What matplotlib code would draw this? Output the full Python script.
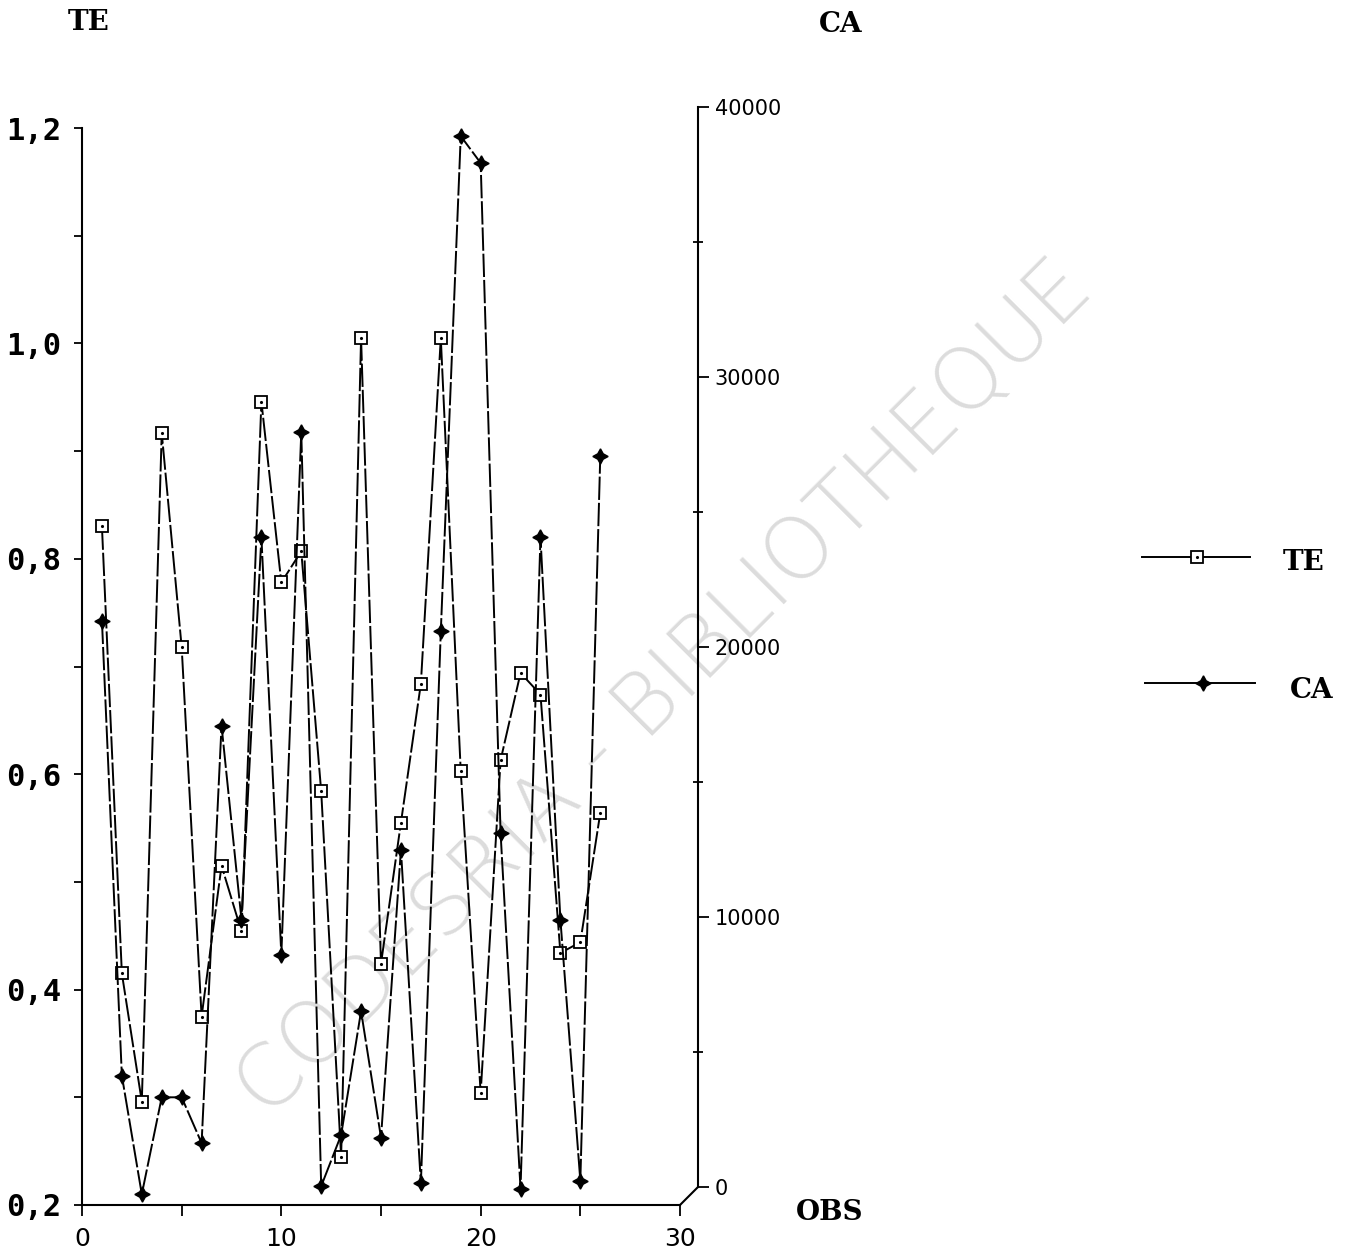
import numpy as np
import matplotlib
matplotlib.use("Agg")
import matplotlib.pyplot as plt
from matplotlib.ticker import MultipleLocator, FuncFormatter

# observations and the two series
obs = list(range(1, 27))
te = [0.83, 0.415, 0.296, 0.917, 0.718, 0.375, 0.515, 0.454, 0.946, 0.778,
      0.807, 0.584, 0.245, 1.005, 0.424, 0.555, 0.684, 1.005, 0.603, 0.304,
      0.613, 0.694, 0.674, 0.434, 0.444, 0.564]
ca = [21700, 4800, 400, 4000, 4000, 2300, 17800, 10600, 24800, 9300,
      28700, 700, 2600, 7200, 2500, 13200, 800, 21300, 39700, 38700,
      13800, 600, 24800, 10600, 900, 27800]

W, H = 1356, 1254
fig = plt.figure(figsize=(W / 100, H / 100), dpi=100)

line_style = (0, (12, 1.5))
serif_bold = dict(family="DejaVu Serif", fontweight="bold", fontsize=20)

# background layer in pixel coordinates: watermark, titles, legend
bg = fig.add_axes([0, 0, 1, 1], zorder=-1)
bg.set_xlim(0, W)
bg.set_ylim(H, 0)
bg.axis("off")
bg.text(665, 690, "CODESRIA - BIBLIOTHEQUE", rotation=45, ha="center", va="center",
        fontsize=62, color="#dcdcdc", family="DejaVu Sans", fontweight="light")
bg.text(89, 23, "TE", ha="center", va="center", **serif_bold)
bg.text(841, 25, "CA", ha="center", va="center", **serif_bold)
bg.text(830, 1213, "OBS", ha="center", va="center", **serif_bold)

# legend
bg.plot([1142, 1250], [557, 557], color="black", lw=1.4)
bg.plot([1197], [557], marker="s", ms=8, mfc="white", mec="black", mew=1.3)
bg.plot([1197], [557], marker=".", ms=2.5, color="black")
bg.text(1304, 562, "TE", ha="center", va="center", **serif_bold)
bg.plot([1145, 1255], [683, 683], color="black", lw=1.4)
bg.plot([1203], [683], marker=(4, 1, 0), ms=11, color="black")
bg.text(1312, 690, "CA", ha="center", va="center", **serif_bold)

# diagonal joining the bottom axis to the offset CA axis
bg.plot([680, 698], [1205, 1187], color="black", lw=1.5)

# main axes (TE)
ax = fig.add_axes([82 / W, 49 / H, 598 / W, 1077 / H])
ax.set_facecolor("none")
ax.set_xlim(0, 30)
ax.set_ylim(0.2, 1.2)
for s in ["top", "right"]:
    ax.spines[s].set_visible(False)
for s in ["left", "bottom"]:
    ax.spines[s].set_linewidth(1.5)

ax.xaxis.set_major_locator(MultipleLocator(10))
ax.xaxis.set_minor_locator(MultipleLocator(5))
ax.yaxis.set_major_locator(MultipleLocator(0.2))
ax.yaxis.set_minor_locator(MultipleLocator(0.1))
ax.yaxis.set_major_formatter(FuncFormatter(lambda v, p: f"{v:.1f}".replace(".", ",")))
ax.tick_params(axis="x", which="both", direction="out", length=8, width=1.3, pad=8,
               labelsize=18)
ax.tick_params(axis="y", which="both", direction="out", length=6, width=1.3, pad=9)
for lab in ax.get_yticklabels():
    lab.set_family("DejaVu Sans Mono")
    lab.set_fontweight("bold")
    lab.set_fontsize(22)

ax.plot(obs, te, color="black", lw=1.4, ls=line_style, zorder=3)
ax.plot(obs, te, ls="none", marker="s", ms=8, mfc="white", mec="black", mew=1.3, zorder=4)
ax.plot(obs, te, ls="none", marker=".", ms=2.5, color="black", zorder=5)

# CA on its own scale over the same plotting box
ax2 = ax.twinx()
ax2.set_facecolor("none")
ax2.set_ylim(0, 40000)
ax2.axis("off")
ax2.plot(obs, ca, color="black", lw=1.4, ls=line_style, zorder=3)
ax2.plot(obs, ca, ls="none", marker=(4, 1, 0), ms=11, color="black", zorder=4)

# visible CA axis, drawn slightly offset up and right
axr = fig.add_axes([698 / W - 0.001, 67 / H, 0.001, 1080 / H])
axr.set_facecolor("none")
axr.set_ylim(0, 40000)
for s in ["top", "left", "bottom"]:
    axr.spines[s].set_visible(False)
axr.spines["right"].set_linewidth(1.5)
axr.set_xticks([])
axr.yaxis.tick_right()
axr.yaxis.set_major_locator(MultipleLocator(10000))
axr.yaxis.set_minor_locator(MultipleLocator(5000))
axr.tick_params(axis="y", which="major", direction="out", length=8, width=1.3, pad=4,
                labelsize=15)
axr.tick_params(axis="y", which="minor", direction="inout", length=7, width=1.3)

fig.savefig("out.png", dpi=100)
